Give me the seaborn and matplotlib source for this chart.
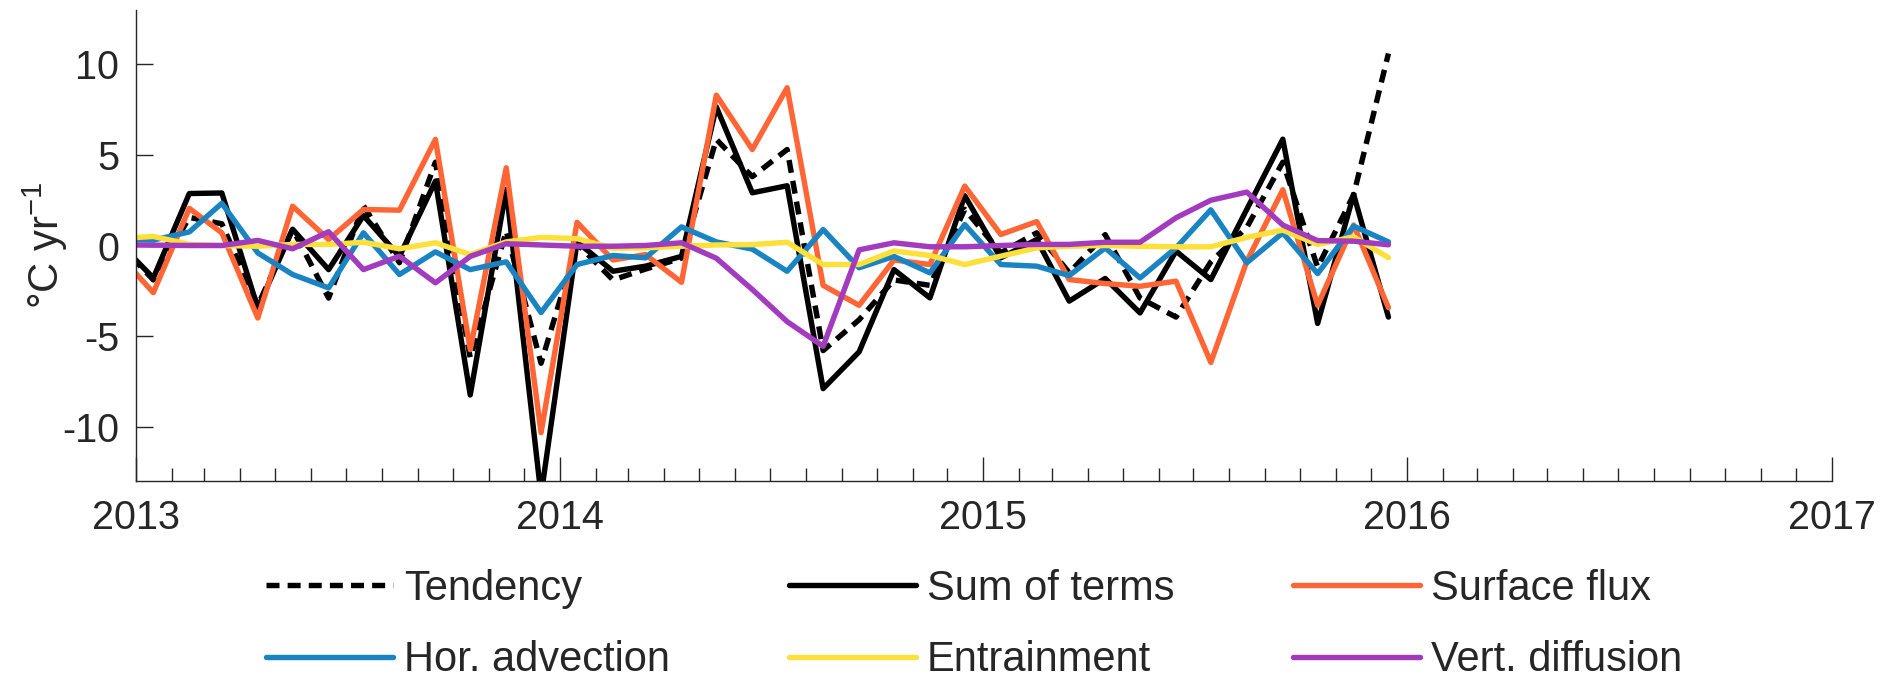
import numpy as np
import pandas as pd
import seaborn as sns
import matplotlib.pyplot as plt
import matplotlib.dates as mdates

# Monthly mixed-layer heat budget terms (degC / yr), mid-month, Dec 2012 - Dec 2015
months = pd.date_range("2012-12-01", "2015-12-01", freq="MS") + pd.Timedelta(days=15)

tendency = [0.2, -1.9, 1.55, 1.2, -3.3, 0.9, -2.9, 2.2, -0.95, 4.6, -6.2, 0.8,
            -6.5, 0.1, -1.9, -1.3, -0.7, 5.86, 3.8, 5.3, -5.8, -4.1, -1.9, -2.2,
            2.0, -0.4, 0.7, -1.5, 0.6, -2.9, -3.95, -0.9, 1.0, 4.6, -1.2, 2.8, 10.6]
sum_terms = [0.25, -1.79, 2.87, 2.9, -3.45, 0.9, -1.33, 1.65, -0.6, 3.55, -8.25, 3.1,
             -13.8, 0.2, -1.42, -1.14, -0.6, 7.65, 2.91, 3.3, -7.9, -5.87, -1.33, -2.89,
             2.75, -0.68, 0.33, -3.07, -1.82, -3.72, -0.31, -1.88, 2.0, 5.87, -4.3, 2.82, -3.95]
surface_flux = [-0.42, -2.6, 2.05, 0.7, -4.0, 2.17, 0.33, 1.99, 1.95, 5.86, -5.75, 4.29,
                -10.33, 1.28, -0.8, -0.5, -2.03, 8.3, 5.3, 8.71, -2.2, -3.3, -0.8, -1.05,
                3.28, 0.61, 1.32, -1.88, -2.1, -2.25, -1.97, -6.45, -0.87, 3.08, -3.3, 1.13, -3.43]
hor_advection = [0.36, 0.3, 0.75, 2.33, -0.41, -1.6, -2.34, 0.7, -1.6, -0.35, -1.33, -0.9,
                 -3.7, -1.05, -0.55, -0.68, 1.03, 0.2, -0.2, -1.42, 0.88, -1.23, -0.6, -1.51,
                 1.16, -1.05, -1.14, -1.66, -0.13, -1.79, -0.13, 1.97, -0.95, 0.7, -1.55, 1.07, 0.2]
entrainment = [0.38, 0.5, 0.06, 0.0, -0.04, 0.06, 0.06, 0.18, -0.18, 0.15, -0.5, 0.2,
               0.45, 0.38, -0.15, -0.13, -0.04, 0.03, 0.05, 0.18, -1.05, -1.05, -0.3, -0.55,
               -1.05, -0.59, -0.13, -0.04, 0.0, -0.04, -0.07, -0.07, 0.45, 0.85, 0.06, 0.48, -0.67]
vert_diffusion = [0.05, 0.02, 0.0, 0.0, 0.28, -0.18, 0.76, -1.33, -0.59, -2.06, -0.6, 0.1,
                  0.03, -0.04, -0.04, 0.0, 0.15, -0.7, -2.43, -4.2, -5.56, -0.24, 0.15, -0.07,
                  -0.07, 0.0, 0.06, 0.06, 0.18, 0.18, 1.53, 2.5, 2.95, 1.13, 0.27, 0.24, 0.04]

series = [
    ("Tendency", tendency, "black", (0, (2.4, 1.5))),
    ("Sum of terms", sum_terms, "black", "-"),
    ("Surface flux", surface_flux, "#FF6535", "-"),
    ("Hor. advection", hor_advection, "#1A84C2", "-"),
    ("Entrainment", entrainment, "#FDE03A", "-"),
    ("Vert. diffusion", vert_diffusion, "#A33BBE", "-"),
]

sns.set_style("ticks")
plt.rcParams["font.family"] = ["Liberation Sans", "DejaVu Sans"]
plt.rcParams["mathtext.fontset"] = "custom"
plt.rcParams["mathtext.rm"] = "Liberation Sans"
plt.rcParams["mathtext.default"] = "regular"
plt.rcParams["axes.unicode_minus"] = False

axcol = "#262626"
fs = 28.5
fs_leg = 30

fig = plt.figure(figsize=(18.8, 6.77), dpi=100)
ax = fig.add_axes([0.0723, 0.2895, 0.9021, 0.6957])

for name, vals, col, ls in series:
    sns.lineplot(x=months, y=vals, ax=ax, color=col, linestyle=ls, lw=3.9,
                 label=name, errorbar=None)

ax.set_xlim(pd.Timestamp("2013-01-01"), pd.Timestamp("2017-01-01"))
ax.set_ylim(-13, 13)
ax.set_yticks([-10, -5, 0, 5, 10])
ax.xaxis.set_major_locator(mdates.YearLocator())
ax.xaxis.set_major_formatter(mdates.DateFormatter("%Y"))
ax.xaxis.set_minor_locator(mdates.MonthLocator())

sns.despine(ax=ax)
for s in ["left", "bottom"]:
    ax.spines[s].set_color(axcol)
    ax.spines[s].set_linewidth(1.0)
ax.tick_params(axis="both", which="both", direction="in", colors=axcol,
               labelcolor=axcol, labelsize=fs, width=1.0)
ax.tick_params(axis="y", length=12, pad=12)
ax.tick_params(axis="x", which="major", length=17, pad=13)
ax.tick_params(axis="x", which="minor", length=9.5)

ax.set_xlabel("")
ax.set_ylabel("°C yr$^{-1}$", fontsize=30, color=axcol)
ax.yaxis.set_label_coords(-0.039, 0.5)

if ax.get_legend() is not None:
    ax.get_legend().remove()
handles, labels = ax.get_legend_handles_labels()
order = [0, 3, 1, 4, 2, 5]
fig.legend([handles[i] for i in order], [labels[i] for i in order],
           ncol=3, loc="upper left", bbox_to_anchor=(0.1415, 0.1595),
           frameon=False, fontsize=fs_leg, handlelength=3.05, handletextpad=0.26,
           columnspacing=2.85, labelspacing=0.75, borderpad=0, borderaxespad=0)

fig.savefig("out.png", dpi=100)
